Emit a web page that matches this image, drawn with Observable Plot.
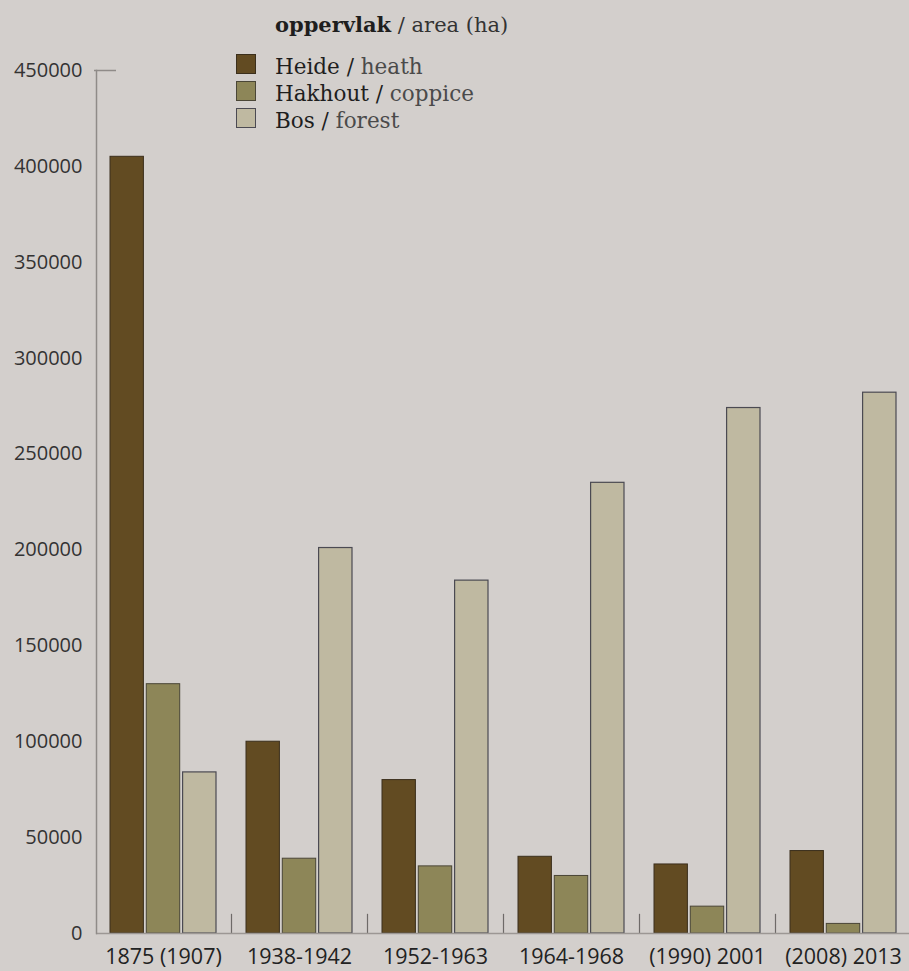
<!DOCTYPE html>
<html>
<head>
<meta charset="utf-8">
<script src="https://cdn.jsdelivr.net/npm/d3@7"></script>
<script src="https://cdn.jsdelivr.net/npm/@observablehq/plot@0.6"></script>
<style>
  html, body { margin: 0; padding: 0; background: #d3cfcc; }
  #wrap { position: relative; width: 909px; height: 971px; overflow: hidden; }
  #chart { position: absolute; left: 0; top: 0; }
  #legend { position: absolute; left: 0; top: 0; pointer-events: none; }
</style>
</head>
<body>
<div id="wrap">
  <div id="chart"></div>
  <svg id="legend" width="909" height="150"></svg>
</div>
<script>
// ---- data ----
const periods = ["1875 (1907)", "1938-1942", "1952-1963", "1964-1968", "(1990) 2001", "(2008) 2013"];
const heath   = [405000, 100000, 80000, 40000, 36000, 43000];
const coppice = [130000,  39000, 35000, 30000, 14000,  5000];
const forest  = [ 84000, 201000, 184000, 235000, 274000, 282000];
const seriesNL = ["Heide", "Hakhout", "Bos"];
const seriesEN = ["heath", "coppice", "forest"];
const yTicks = [0, 50000, 100000, 150000, 200000, 250000, 300000, 350000, 400000, 450000];
const titleBold = "oppervlak";
const titleRest = " / area (ha)";

const colors = ["#624b22", "#8d8658", "#bfb9a1"];
const strokes = ["#3b2f1c", "#4a4636", "#4b4a52"];

const rows = periods.map((p, i) => ({period: p, heath: heath[i], coppice: coppice[i], forest: forest[i]}));

const plot = Plot.plot({
  width: 909,
  height: 971,
  marginLeft: 96,
  marginRight: 0,
  marginTop: 70,
  marginBottom: 38,
  style: {background: "transparent", fontFamily: "'Open Sans', sans-serif", color: "#2e2e2e"},
  x: {domain: periods, paddingInner: 0.222, paddingOuter: 0.095, label: null},
  y: {domain: [0, 450000], label: null},
  marks: [
    Plot.axisY({ticks: yTicks, tickSize: 0, tickPadding: 14, tickFormat: d => String(d), fontSize: 20, fill: "#333"}),
    Plot.axisX({tickSize: 0, tickPadding: 15, fontSize: 21.5, fill: "#222"}),
    Plot.barY(rows, {x: "period", y: "heath", fill: colors[0], stroke: strokes[0], strokeWidth: 1, insetLeft: 0, insetRight: 72.6}),
    Plot.barY(rows, {x: "period", y: "coppice", fill: colors[1], stroke: strokes[1], strokeWidth: 1, insetLeft: 36.3, insetRight: 36.3}),
    Plot.barY(rows, {x: "period", y: "forest", fill: colors[2], stroke: strokes[2], strokeWidth: 1.2, insetLeft: 72.6, insetRight: 0}),
    Plot.ruleX(periods.slice(0, -1), {x: d => d, dx: 68, y1: 0, y2: 10000, stroke: "#6e6a68", strokeWidth: 1.2}),
    Plot.ruleY([0], {stroke: "#9c9794", strokeWidth: 1.5}),
    Plot.frame({anchor: "left", stroke: "#8f8b88", strokeWidth: 1.5}),
    Plot.tickY([450000], {stroke: "#8f8b88", strokeWidth: 1.5, x: () => periods[0], dx: -16, insetRight: 84})
  ]
});
document.getElementById("chart").appendChild(plot);

// ---- legend / title overlay ----
const lg = d3.select("#legend");
const serif = "'DejaVu Serif', serif";
const t = lg.append("text").attr("x", 275).attr("y", 32)
  .attr("font-family", serif).attr("font-size", 21).attr("fill", "#1e1e1e");
t.append("tspan").attr("font-weight", "bold").text(titleBold);
t.append("tspan").attr("fill", "#333").text(titleRest);

seriesNL.forEach((nl, i) => {
  const base = 74 + i * 27;
  lg.append("rect").attr("x", 236.5).attr("y", base - 19.5).attr("width", 19).attr("height", 19)
    .attr("fill", colors[i]).attr("stroke", strokes[i]).attr("stroke-width", 1);
  const tx = lg.append("text").attr("x", 275).attr("y", base)
    .attr("font-family", serif).attr("font-size", 21.5).attr("fill", "#1e1e1e");
  tx.append("tspan").text(nl + " / ");
  tx.append("tspan").attr("fill", "#4a4a4a").text(seriesEN[i]);
});
</script>
</body>
</html>
